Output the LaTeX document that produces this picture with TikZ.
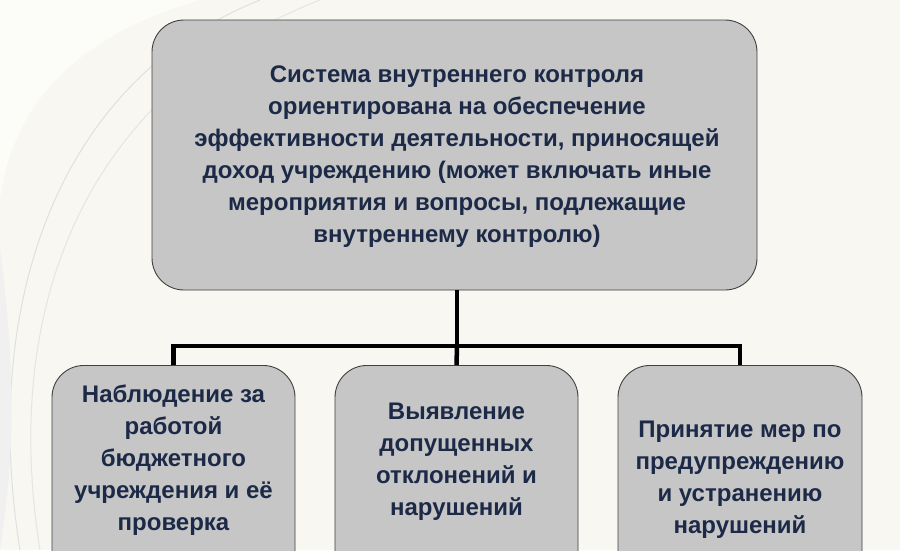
\documentclass[tikz,border=0pt]{standalone}
\usepackage{fontspec}
\setmainfont{Liberation Sans}
\begin{document}
\begin{tikzpicture}[x=1pt,y=-1pt,
 box/.style={draw=black!75,line width=0.9pt,fill=boxgray,rounded corners=32pt,inner sep=0pt},
 txt/.style={text=navy,font=\bfseries\fontsize{24}{32}\selectfont,align=center},
 conn/.style={line width=4.5pt,draw=black}]
\definecolor{boxgray}{HTML}{C6C6C6}
\definecolor{navy}{HTML}{1C2A48}
\definecolor{bg}{HTML}{F8F7F1}
\useasboundingbox (0,0) rectangle (900,550);
\fill[bg] (0,0) rectangle (900,550);
\fill[white!60!bg] (0,0) -- (0,200) .. controls (10,120) and (60,40) .. (200,0) -- cycle;
\draw[black!12,line width=1pt] (20,550) .. controls (-20,300) and (60,80) .. (260,0);
\draw[black!10,line width=1pt] (40,550) .. controls (0,300) and (90,90) .. (320,0);
\fill[black!6] (0,250) .. controls (20,400) and (10,480) .. (0,550) -- cycle;
\node[box,minimum width=605pt,minimum height=270pt] (top) at (454.5,155) {};
\node[txt] (tt) at (457,157) {Система внутреннего контроля\\ориентирована на обеспечение\\эффективности деятельности, приносящей\\доход учреждению (может включать иные\\мероприятия и вопросы, подлежащие\\внутреннему контролю)};
\begin{scope}
\clip (0,0) rectangle (900,550);
\node[box,minimum width=243pt,minimum height=230pt,anchor=north] (b1) at (173.5,365) {};
\node[box,minimum width=243pt,minimum height=230pt,anchor=north] (b2) at (456.5,365) {};
\node[box,minimum width=244pt,minimum height=230pt,anchor=north] (b3) at (740,365) {};
\end{scope}
\node[txt] (t1) at (173.5,460) {Наблюдение за\\работой\\бюджетного\\учреждения и её\\проверка};
\node[txt] (t2) at (456.5,462) {Выявление\\допущенных\\отклонений и\\нарушений};
\node[txt] (t3) at (740,480) {Принятие мер по\\предупреждению\\и устранению\\нарушений};
\coordinate (j) at (457,346);
\draw[conn] (top.south -| j) -- (j);
\draw[conn] (b1.north) -- (b1.north |- j) -- (b3.north |- j) -- (b3.north);
\draw[conn] (j) -- (b2.north);
\end{tikzpicture}
\end{document}
